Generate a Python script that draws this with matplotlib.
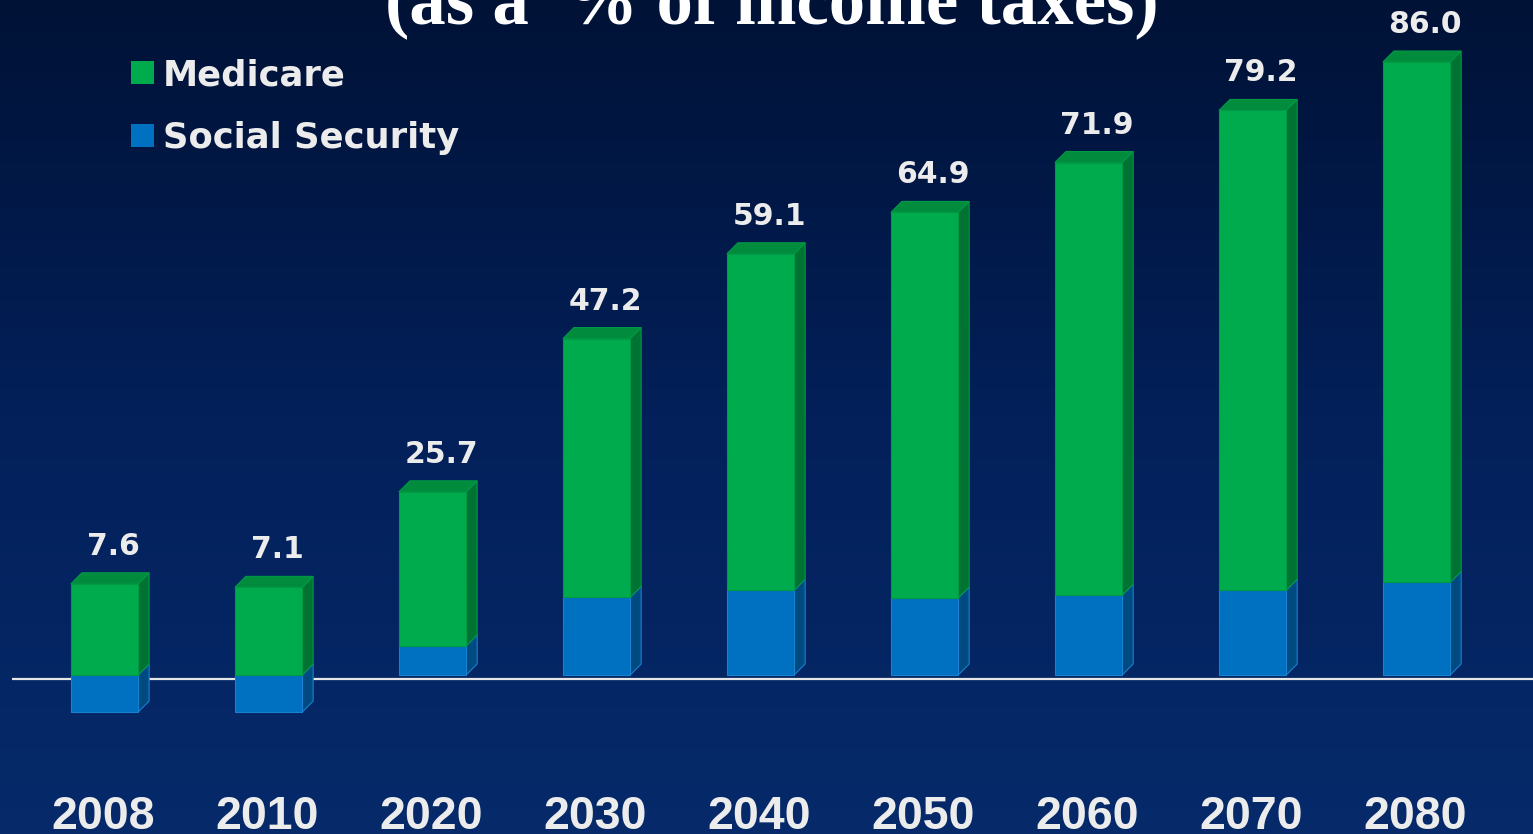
import matplotlib
matplotlib.use('Agg')
import matplotlib.pyplot as plt
import numpy as np
from matplotlib.patches import Polygon, Rectangle
from matplotlib.colors import LinearSegmentedColormap

# ---- data ----
years = ['2008', '2010', '2020', '2030', '2040', '2050', '2060', '2070', '2080']
social_security = [-5.2, -5.2, 4.1, 10.9, 11.9, 10.8, 11.2, 11.9, 13.0]
medicare = [12.8, 12.3, 21.6, 36.3, 47.2, 54.1, 60.7, 67.3, 73.0]
totals = [7.6, 7.1, 25.7, 47.2, 59.1, 64.9, 71.9, 79.2, 86.0]
series_names = ['Medicare', 'Social Security']
title = '(as a  % of income taxes)'

# ---- style ----
W, H = 1533, 834
GREEN_F, GREEN_S, GREEN_T, GREEN_E = '#00ab4e', '#007232', '#008c3c', '#009a45'
BLUE_F, BLUE_S, BLUE_T, BLUE_E = '#0070c0', '#004a82', '#0060a8', '#1a80d0'
TXT = '#ececec'
SANS = ['Liberation Sans', 'DejaVu Sans']
WIDE = ['DejaVu Sans']
SERIF = ['Liberation Serif', 'DejaVu Serif']

fig = plt.figure(figsize=(W / 100, H / 100), dpi=100)

bg = fig.add_axes([0, 0, 1, 1], zorder=0)
grad = np.linspace(0, 1, 256).reshape(-1, 1)
cmap = LinearSegmentedColormap.from_list('bg', ['#001236', '#03205a', '#062a6a'])
bg.imshow(grad, aspect='auto', cmap=cmap, extent=[0, 1, 0, 1], origin='upper')
bg.axis('off')

left_px = 12
ax = fig.add_axes([left_px / W, 0, 1 - left_px / W, 1], zorder=1)
ax.patch.set_alpha(0)
xlim = (-0.564, 8.71)
ylim = (-22.3, 94.7)
ax.set_xlim(*xlim)
ax.set_ylim(*ylim)
ax.axis('off')

ax_w_px = W - left_px
ax_h_px = H
def px2dx(p):
    return p * (xlim[1] - xlim[0]) / ax_w_px
def px2dy(p):
    return p * (ylim[1] - ylim[0]) / ax_h_px

depth = 11
ddx, ddy = px2dx(depth), px2dy(depth)
bw = 0.41
x = np.arange(len(years))

# baseline
ax.axhline(-px2dy(4), color='#e6e6e6', lw=1.6, zorder=1)

def draw_side(xc, y0, y1, sc, ec, z):
    lo, hi = min(y0, y1), max(y0, y1)
    xr = xc + bw / 2
    side = Polygon([(xr, lo), (xr + ddx, lo + ddy), (xr + ddx, hi + ddy), (xr, hi)],
                   closed=True, facecolor=sc, edgecolor=ec, lw=0.8, zorder=z)
    ax.add_patch(side)

def draw_top(xc, top, tc, ec, z):
    xl, xr = xc - bw / 2, xc + bw / 2
    poly = Polygon([(xl, top), (xl + ddx, top + ddy), (xr + ddx, top + ddy), (xr, top)],
                   closed=True, facecolor=tc, edgecolor=ec, lw=0.8, zorder=z)
    ax.add_patch(poly)

for i in range(len(years)):
    ss = social_security[i]
    med = medicare[i]
    base = max(ss, 0)
    top = base + med
    draw_side(x[i], 0, ss, BLUE_S, BLUE_E, 3)
    draw_side(x[i], base, top, GREEN_S, GREEN_E, 3)
    draw_top(x[i], top, GREEN_T, GREEN_E, 3)

ax.bar(x, social_security, width=bw, color=BLUE_F, edgecolor=BLUE_E, lw=0.8, zorder=4)
ax.bar(x, medicare, width=bw, bottom=[max(s, 0) for s in social_security],
       color=GREEN_F, edgecolor=GREEN_E, lw=0.8, zorder=4)

# value labels
for i in range(len(years)):
    top = max(social_security[i], 0) + medicare[i]
    ax.text(x[i] + ddx / 2 + px2dx(3), top + ddy + px2dy(18), f'{totals[i]:.1f}',
            ha='center', va='baseline', fontsize=21.5, fontweight='bold',
            color=TXT, family=WIDE, zorder=6)

# year labels
for i, yr in enumerate(years):
    ax.text(x[i] - px2dx(1), -px2dy(829 - 675), yr, ha='center', va='baseline',
            fontsize=33.5, fontweight='bold', color=TXT, family=SANS, zorder=6)

# legend
leg_colors = [GREEN_F, BLUE_F]
leg_y = [72, 135]
for name, c, yc in zip(series_names, leg_colors, leg_y):
    fig.patches.append(Rectangle((131 / W, 1 - (yc + 12) / H), 23 / W, 23 / H,
                                 transform=fig.transFigure, facecolor=c,
                                 edgecolor='none', zorder=5))
    fig.text(163 / W, 1 - (yc + 13) / H, name, ha='left', va='baseline',
             fontsize=25.5, fontweight='bold', color=TXT, family=WIDE, zorder=6)

# title (cut off at top)
fig.text(772 / W, 1 - 23 / H, title, ha='center', va='baseline', fontsize=52.5,
         fontweight='bold', color='white', family=SERIF, zorder=6)

fig.savefig('out.png', dpi=100)
